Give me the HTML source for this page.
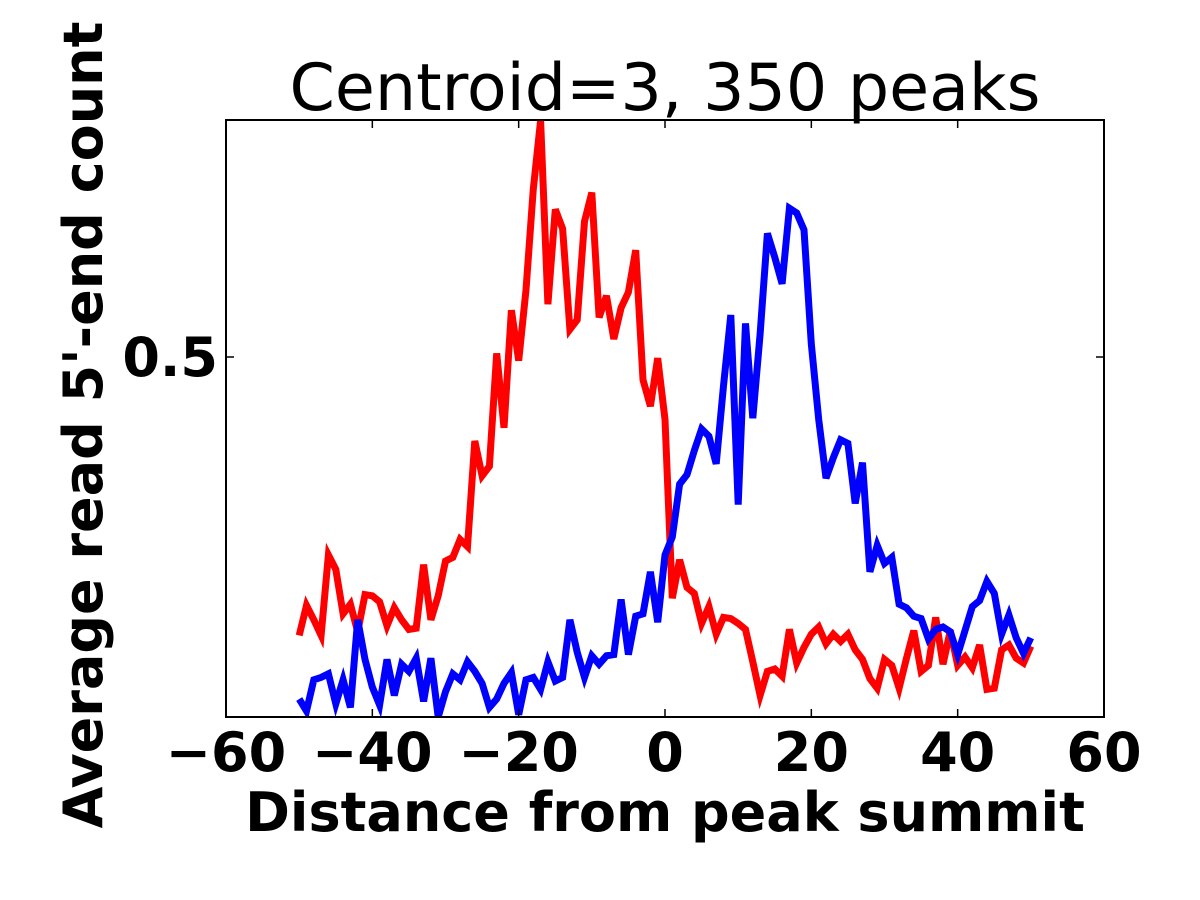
<!DOCTYPE html>
<html><head><meta charset="utf-8"><style>
html,body{margin:0;padding:0;background:#fff;}
svg{display:block;font-family:"DejaVu Sans","Liberation Sans",sans-serif;}
</style></head><body>
<svg id="chart" width="1200" height="900" viewBox="0 0 1200 900" xmlns="http://www.w3.org/2000/svg">
<rect x="0" y="0" width="1200" height="900" fill="#fff"/>
<text x="665" y="110" text-anchor="middle" font-size="65">Centroid=3, 350 peaks</text>
<g id="plot"></g>
<text x="665" y="831" text-anchor="middle" font-size="54" font-weight="bold">Distance from peak summit</text>
<text transform="translate(102,425) rotate(-90)" text-anchor="middle" font-size="54" font-weight="bold">Average read 5'-end count</text>
</svg>
<script>
const xValues = [];
for (let i = -50; i <= 50; i++) xValues.push(i);
const redSeries = [.268,.293,.281,.268,.335,.323,.286,.294,.271,.302,.301,.296,.276,.291,.281,.273,.274,.327,.281,.301,.330,.333,.348,.342,.430,.401,.409,.503,.441,.539,.497,.556,.640,.697,.544,.623,.607,.523,.531,.613,.637,.533,.551,.515,.541,.554,.589,.481,.459,.499,.448,.299,.331,.308,.303,.278,.292,.269,.283,.282,.278,.273,.246,.218,.238,.240,.234,.273,.245,.258,.269,.275,.261,.269,.263,.269,.256,.248,.232,.224,.248,.243,.224,.249,.272,.238,.243,.283,.244,.272,.243,.250,.241,.260,.223,.224,.256,.260,.249,.245,.259];
const blueSeries = [.215,.205,.231,.233,.236,.211,.231,.208,.281,.248,.225,.210,.248,.218,.244,.238,.249,.213,.249,.200,.221,.236,.231,.246,.238,.228,.208,.215,.228,.237,.202,.231,.233,.223,.246,.230,.233,.281,.254,.233,.251,.244,.251,.252,.298,.252,.284,.286,.321,.279,.335,.350,.394,.402,.422,.440,.434,.411,.476,.535,.377,.528,.449,.519,.603,.583,.561,.624,.620,.606,.511,.448,.399,.416,.431,.428,.378,.412,.321,.343,.328,.333,.294,.291,.284,.282,.265,.273,.275,.271,.252,.272,.292,.297,.313,.303,.269,.285,.266,.253,.266];
const xTicks = [-60,-40,-20,0,20,40,60];
const xTickLabels = ["\u221260","\u221240","\u221220","0","20","40","60"];
const yTicks = [0.5];
const yTickLabels = ["0.5"];
const xDomain = [-60, 60];
const yDomain = [0.2, 0.6975];

const L=226,R=1104,T=120,B=717;
const sx = v => L + (v - xDomain[0]) / (xDomain[1] - xDomain[0]) * (R - L);
const sy = v => B - (v - yDomain[0]) / (yDomain[1] - yDomain[0]) * (B - T);
const NS="http://www.w3.org/2000/svg";
const plot=document.getElementById('plot');
function mk(tag, attrs, parent){const e=document.createElementNS(NS,tag);for(const k in attrs)e.setAttribute(k,attrs[k]);(parent||plot).appendChild(e);return e;}

const clip=mk('clipPath',{id:'clip'});
mk('rect',{x:L,y:T,width:R-L,height:B-T},clip);

function series(vals,color,name){
  const d=vals.map((v,i)=>(i?'L':'M')+sx(xValues[i]).toFixed(1)+','+sy(v).toFixed(1)).join(' ');
  const p=mk('path',{d:d,fill:'none',stroke:color,'stroke-width':7,'stroke-linejoin':'miter','clip-path':'url(#clip)'});
  
  
}
series(redSeries,'#ff0000','red-series-line');
series(blueSeries,'#0000ff','blue-series-line');

const frame=mk('rect',{x:L,y:T,width:R-L,height:B-T,fill:'none',stroke:'#000','stroke-width':2});



xTicks.forEach((t,i)=>{
  const x=sx(t);
  const a=mk('line',{x1:x,y1:B,x2:x,y2:B-8,stroke:'#000','stroke-width':1.5});
  
  
  const b=mk('line',{x1:x,y1:T,x2:x,y2:T+8,stroke:'#000','stroke-width':1.5});
  
  
  const tx=mk('text',{x:x,y:B+54,'text-anchor':'middle','font-size':54,'font-weight':'bold'});
  tx.textContent=xTickLabels[i];
  
  
});
yTicks.forEach((t,i)=>{
  const y=sy(t);
  const a=mk('line',{x1:L,y1:y,x2:L+8,y2:y,stroke:'#000','stroke-width':1.5});
  
  
  const b=mk('line',{x1:R,y1:y,x2:R-8,y2:y,stroke:'#000','stroke-width':1.5});
  
  
  const tx=mk('text',{x:L-8,y:y+19,'text-anchor':'end','font-size':54,'font-weight':'bold'});
  tx.textContent=yTickLabels[i];
  
  
});
</script>
</body></html>
